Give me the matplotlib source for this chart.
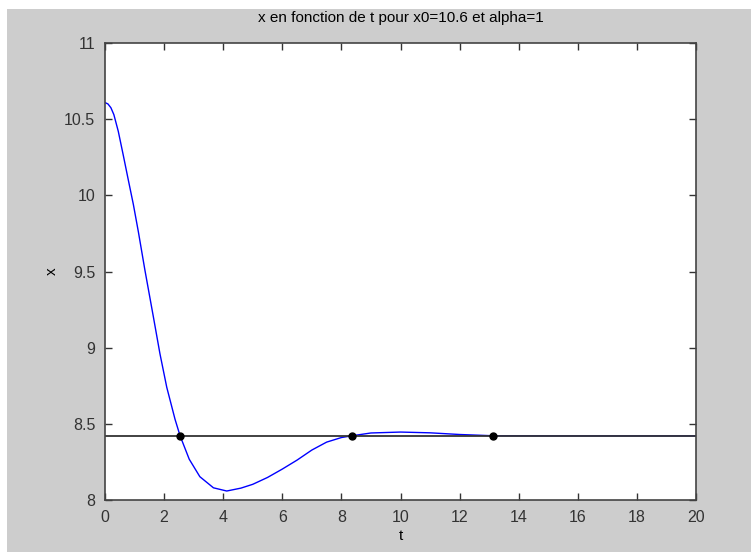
import numpy as np
import matplotlib
matplotlib.use('Agg')
import matplotlib.pyplot as plt
from matplotlib.patches import Rectangle

# courbe x(t) relevée point par point
t = [0.0, 0.10, 0.20, 0.30, 0.45, 0.62, 0.79, 0.96, 1.13, 1.35, 1.63, 1.86,
     2.09, 2.37, 2.54, 2.85, 3.21, 3.67, 4.12, 4.60, 5.00, 5.50, 6.00, 6.50,
     7.00, 7.50, 8.00, 8.37, 9.00, 10.00, 11.00, 12.00, 13.10, 15.0, 17.5, 20.0]
x = [10.609, 10.600, 10.575, 10.530, 10.420, 10.262, 10.100, 9.940, 9.760,
     9.510, 9.210, 8.960, 8.740, 8.530, 8.422, 8.268, 8.153, 8.080, 8.059,
     8.078, 8.103, 8.148, 8.203, 8.262, 8.328, 8.380, 8.410, 8.422, 8.440,
     8.446, 8.441, 8.430, 8.422, 8.421, 8.421, 8.421]

# point d'equilibre et intersections
x_eq = 8.421
t_pts = [2.54, 8.37, 13.12]
x_pts = [8.422, 8.422, 8.422]

plt.rcParams['font.family'] = ['Liberation Sans', 'DejaVu Sans']

fig = plt.figure(figsize=(7.51, 5.52), dpi=100, facecolor='white')
fig.patches.append(Rectangle((7 / 751, 0), 1, 1 - 9 / 552, transform=fig.transFigure,
                             facecolor='#cdcdcd', edgecolor='none', zorder=-1))
ax = fig.add_axes([0.1398, 0.0942, 0.787, 0.8279])
ax.set_facecolor('white')

ax.plot(t, x, color='#0000ff', lw=1.0)
ax.axhline(x_eq, color='#333333', lw=1.3)
ax.plot(t_pts, x_pts, 'o', color='black', markersize=5)

ax.set_xlim(0, 20)
ax.set_ylim(8, 11)
ax.set_xticks(np.arange(0, 21, 2))
ax.set_yticks([8, 8.5, 9, 9.5, 10, 10.5, 11])
ax.set_yticklabels(['8', '8.5', '9', '9.5', '10', '10.5', '11'])
ax.tick_params(direction='in', length=5, top=True, right=True,
               labelsize=11.5, colors='#333333', pad=7, width=1)
for s in ax.spines.values():
    s.set_color('#444444')
    s.set_linewidth(1.2)

ax.set_xlabel('t', fontsize=11, labelpad=3)
ax.set_ylabel('x', fontsize=11, labelpad=4)
ax.set_title('x en fonction de t pour x0=10.6 et alpha=1', fontsize=11, pad=15)

plt.savefig('out.png', dpi=100, facecolor=fig.get_facecolor())
